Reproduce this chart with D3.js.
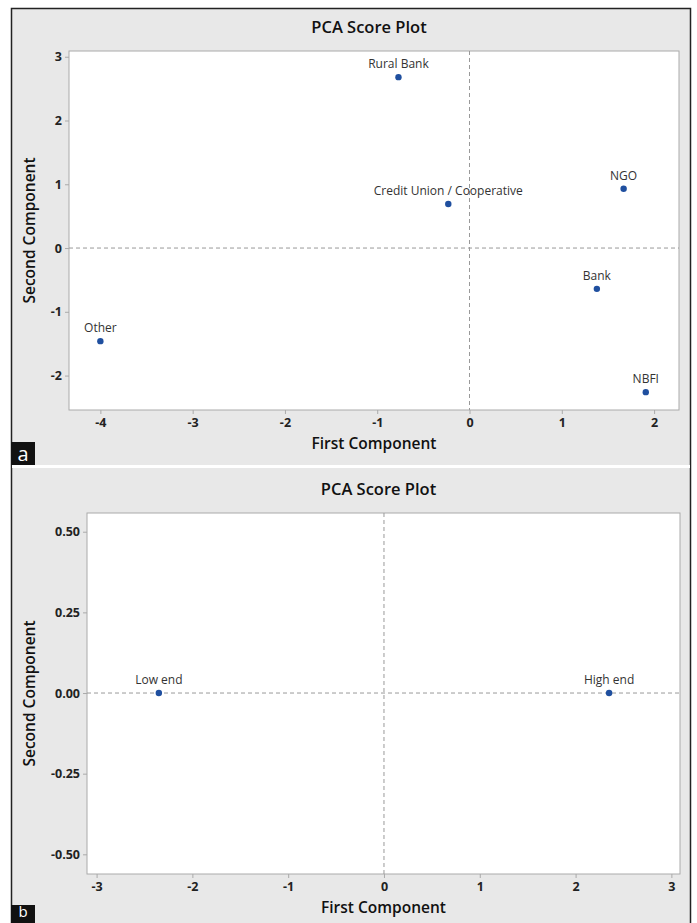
<!DOCTYPE html>
<html>
<head>
<meta charset="utf-8">
<script src="https://cdn.jsdelivr.net/npm/d3@7"></script>
<style>
  body { margin: 0; background: #fff; }
  text { font-family: "Open Sans", "Noto Sans", sans-serif; }
</style>
</head>
<body>
<svg id="chart" width="697" height="923"></svg>
<script>
// panel a
var groupsA = ["Rural Bank", "Credit Union / Cooperative", "NGO", "Bank", "NBFI", "Other"];
var pc1A = [-0.77, -0.23, 1.67, 1.38, 1.91, -4.0];
var pc2A = [2.68, 0.69, 0.93, -0.64, -2.26, -1.46];
var xTicksA = [-4, -3, -2, -1, 0, 1, 2];
var yTicksA = [-2, -1, 0, 1, 2, 3];

// panel b
var groupsB = ["Low end", "High end"];
var pc1B = [-2.35, 2.35];
var pc2B = [0, 0];
var xTicksB = [-3, -2, -1, 0, 1, 2, 3];
var yTicksB = [-0.50, -0.25, 0.00, 0.25, 0.50];

var svg = d3.select("#chart");

// outer frame
svg.append("rect").attr("x", 11.5).attr("y", 8.5).attr("width", 679).attr("height", 920)
  .attr("fill", "#e8e8e8").attr("stroke", "#222").attr("stroke-width", 1.5);
// white strip between the two panels
svg.append("rect").attr("x", 12).attr("y", 465).attr("width", 678).attr("height", 3).attr("fill", "#fff");

function drawPanel(p) {
  var x = d3.scaleLinear().domain(p.xDomain).range([p.left, p.right]);
  var y = d3.scaleLinear().domain(p.yDomain).range([p.bottom, p.top]);
  var g = svg.append("g");

  g.append("rect").attr("x", p.left).attr("y", p.top)
    .attr("width", p.right - p.left).attr("height", p.bottom - p.top)
    .attr("fill", "#fff").attr("stroke", "#aaa").attr("stroke-width", 1);

  var xAxis = g.append("g").attr("transform", "translate(0," + p.bottom + ")")
    .call(d3.axisBottom(x).tickValues(p.xTicks).tickSize(4).tickPadding(4).tickFormat(d3.format("d")));
  var yAxis = g.append("g").attr("transform", "translate(" + p.left + ",0)")
    .call(d3.axisLeft(y).tickValues(p.yTicks).tickSize(4).tickPadding(3).tickFormat(p.yFormat));
  [xAxis, yAxis].forEach(function (a) {
    a.select(".domain").remove();
    a.selectAll(".tick line").attr("stroke", "#aaa");
    a.selectAll(".tick text").attr("fill", "#222").style("font-size", "12.5px").style("font-weight", "700")
      .style("font-family", "'Open Sans', sans-serif");
  });
  // plain hyphen for negatives, like the original
  g.selectAll(".tick text").text(function () { return this.textContent.replace("\u2212", "-"); });

  // reference lines
  g.append("line").attr("x1", x(0)).attr("x2", x(0)).attr("y1", p.top).attr("y2", p.bottom)
    .attr("stroke", "#999").attr("stroke-dasharray", "4,3");
  g.append("line").attr("x1", p.left).attr("x2", p.right).attr("y1", y(0)).attr("y2", y(0))
    .attr("stroke", "#999").attr("stroke-dasharray", "4,3");

  var pts = p.names.map(function (n, i) { return { name: n, px: p.xs[i], py: p.ys[i] }; });
  g.selectAll("circle.pt").data(pts).enter().append("circle")
    .attr("class", "pt")
    .attr("cx", function (d) { return x(d.px); })
    .attr("cy", function (d) { return y(d.py); })
    .attr("r", 3.2).attr("fill", "#1f4f9f");
  g.selectAll("text.lbl").data(pts).enter().append("text")
    .attr("class", "lbl")
    .attr("x", function (d) { return x(d.px); })
    .attr("y", function (d) { return y(d.py) - 9; })
    .attr("text-anchor", "middle").attr("fill", "#333")
    .style("font-size", "12px")
    .text(function (d) { return d.name; });

  // titles
  g.append("text").attr("x", (p.left + p.right) / 2 - 5).attr("y", p.top - 18)
    .attr("text-anchor", "middle").attr("fill", "#111")
    .style("font-size", "16.5px").style("font-weight", "600").text("PCA Score Plot");
  g.append("text").attr("x", (p.left + p.right) / 2).attr("y", p.bottom + 39)
    .attr("text-anchor", "middle").attr("fill", "#111")
    .style("font-size", "15.5px").style("font-weight", "600").text("First Component");
  g.append("text").attr("transform", "translate(35," + (p.top + p.bottom) / 2 + ") rotate(-90)")
    .attr("text-anchor", "middle").attr("fill", "#111")
    .style("font-size", "15.5px").style("font-weight", "600").text("Second Component");

  // panel letter
  g.append("rect").attr("x", 11).attr("y", p.letterY).attr("width", 24).attr("height", 23).attr("fill", "#111");
  g.append("text").attr("x", 23).attr("y", p.letterBase).attr("text-anchor", "middle")
    .attr("fill", "#fff").style("font-size", p.letterSize).text(p.letter);
}

drawPanel({
  names: groupsA, xs: pc1A, ys: pc2A, xTicks: xTicksA, yTicks: yTicksA,
  xDomain: [-4.34, 2.27], yDomain: [-2.54, 3.09],
  left: 69, right: 679, top: 51, bottom: 410,
  yFormat: d3.format("d"), letter: "a", letterY: 442, letterBase: 461, letterSize: "20px"
});

drawPanel({
  names: groupsB, xs: pc1B, ys: pc2B, xTicks: xTicksB, yTicks: yTicksB,
  xDomain: [-3.1, 3.09], yDomain: [-0.561, 0.558],
  left: 87, right: 680, top: 513, bottom: 874,
  yFormat: d3.format(".2f"), letter: "b", letterY: 905, letterBase: 917, letterSize: "15px"
});
</script>
</body>
</html>
